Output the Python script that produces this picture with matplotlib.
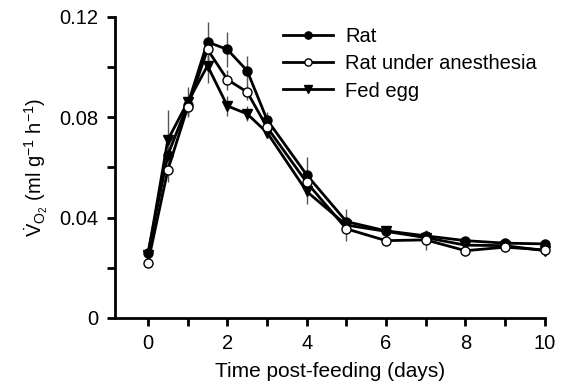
import matplotlib.pyplot as plt
import numpy as np

plt.rcParams['font.family'] = ['Liberation Sans', 'DejaVu Sans']
plt.rcParams['mathtext.fontset'] = 'custom'
plt.rcParams['mathtext.rm'] = 'Liberation Sans'
plt.rcParams['mathtext.it'] = 'Liberation Sans:italic'

''' VO2 after feeding '''
days = [0, 0.5, 1, 1.5, 2, 2.5, 3, 4, 5, 6, 7, 8, 9, 10]

rat = [0.026, 0.065, 0.085, 0.110, 0.107, 0.0985, 0.079, 0.057, 0.0384, 0.0347, 0.0327, 0.0308, 0.0298, 0.0295]
rat_err = [0.001, 0.004, 0.004, 0.008, 0.007, 0.006, 0.003, 0.007, 0.005, 0.002, 0.002, 0.001, 0.001, 0.001]

anest = [0.022, 0.059, 0.084, 0.107, 0.095, 0.090, 0.076, 0.054, 0.0355, 0.0308, 0.0311, 0.0268, 0.0282, 0.0271]
anest_err = [0.001, 0.005, 0.003, 0.004, 0.004, 0.003, 0.002, 0.004, 0.005, 0.002, 0.004, 0.002, 0.002, 0.001]

egg = [0.025, 0.071, 0.086, 0.1005, 0.0845, 0.0813, 0.0739, 0.0504, 0.037, 0.0345, 0.032, 0.029, 0.0288, 0.0268]
egg_err = [0.001, 0.012, 0.006, 0.007, 0.004, 0.003, 0.002, 0.005, 0.003, 0.002, 0.002, 0.002, 0.002, 0.001]

fs = 14.5

fig = plt.figure(figsize=(5.64, 3.92), dpi=100)
ax = fig.add_axes([0.204, 0.189, 0.762, 0.768])

# thin grey error bars, no caps
for y, e in [(rat, rat_err), (anest, anest_err), (egg, egg_err)]:
    ax.errorbar(days, y, yerr=e, fmt='none', ecolor='#555555', elinewidth=1.0,
                capsize=0, zorder=1, clip_on=False)

ax.plot(days, rat, '-o', color='black', lw=2.0, ms=6.5, mfc='black', mec='black',
        label='Rat', zorder=3, clip_on=False)
ax.plot(days, anest, '-o', color='black', lw=2.0, ms=6.5, mfc='white', mec='black',
        mew=1.0, label='Rat under anesthesia', zorder=4, clip_on=False)
ax.plot(days, egg, '-v', color='black', lw=2.0, ms=6.5, mfc='black', mec='black',
        label='Fed egg', zorder=2, clip_on=False)

ax.set_xlim(-0.83, 10)
ax.set_ylim(0, 0.12)
ax.set_xticks(range(0, 11, 2))
ax.set_xticks(range(0, 11), minor=True)
ax.set_yticks([0, 0.04, 0.08, 0.12])
ax.set_yticklabels(['0', '0.04', '0.08', '0.12'])
ax.set_yticks([0.02, 0.06, 0.10], minor=True)

for s in ['top', 'right']:
    ax.spines[s].set_visible(False)
for s in ['left', 'bottom']:
    ax.spines[s].set_linewidth(2.0)
ax.tick_params(which='both', direction='out', length=5.8, width=2.0, labelsize=fs)
ax.tick_params(axis='y', pad=6)
ax.tick_params(axis='x', pad=6)

ax.set_xlabel('Time post-feeding (days)', fontsize=15, labelpad=6)
ax.set_ylabel(r'$\dot{\mathrm{V}}_{\mathrm{O_2}}$ (ml g$^{-1}$ h$^{-1}$)', fontsize=fs, labelpad=7)

ax.legend(loc='upper left', bbox_to_anchor=(0.39, 0.965), frameon=False, fontsize=fs,
          handlelength=2.5, handletextpad=0.6, labelspacing=0.4, borderpad=0,
          borderaxespad=0, markerscale=0.8)

fig.savefig('out.png', dpi=100)
